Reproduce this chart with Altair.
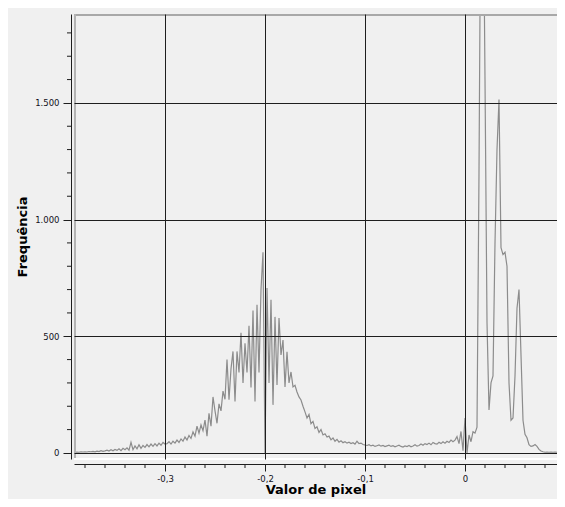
import altair as alt
import pandas as pd

# ---- data ----
bin_start = -0.39
bin_step = 0.002
counts = [
    # -0.390 .. -0.342
    3, 4, 3, 5, 4, 5, 4, 6, 5, 7, 5, 8, 6, 10, 7, 9, 12, 8, 14, 9, 15, 11, 18, 10, 20,
    # -0.340 .. -0.300
    14, 22, 12, 45, 14, 30, 18, 35, 20, 32, 24, 36, 26, 38, 28, 40, 30, 42, 33, 45, 38,
    # -0.298 .. -0.270
    40, 48, 38, 50, 42, 55, 45, 60, 50, 68, 55, 75, 62, 90, 72,
    # -0.268 .. -0.250
    115, 85, 120, 95, 141, 72, 170, 115, 240, 180,
    # -0.248 .. -0.202
    127, 210, 180, 265, 230, 400, 228, 360, 435, 220, 435, 345, 515, 300, 470, 345,
    545, 280, 610, 220, 635, 345, 700, 860,
    # -0.200 .. -0.160
    0, 707, 300, 656, 206, 583, 291, 578, 420, 484, 283, 433, 300, 347, 283, 290,
    261, 240, 227, 200, 176,
    # -0.158 .. -0.100
    150, 165, 125, 135, 105, 112, 88, 100, 77, 82, 68, 72, 56, 64, 50, 58, 46, 52,
    44, 48, 42, 46, 40, 44, 38, 50, 40, 42, 36, 34,
    # -0.098 .. -0.012
    32, 35, 30, 33, 28, 31, 34, 29, 32, 27, 30, 33, 28, 31, 26, 30, 33, 28, 25, 30,
    27, 32, 26, 30, 35, 29, 32, 38, 33, 40, 36, 42, 35, 45, 40, 38, 46, 40, 48, 42,
    50, 45, 55, 48,
    # -0.010 .. 0.012
    55, 70, 40, 92, 10, 150, 0, 77, 48, 91, 85, 110,
    # 0.014 .. 0.100
    1200, 2600, 2600, 1600, 560, 184, 300, 330, 900, 1300, 1515, 880, 850, 860, 800,
    300, 140, 150, 330, 620, 700, 420, 140, 80, 65, 35, 28, 30, 36, 28, 15, 8, 5, 3,
    4, 3, 4, 3, 4, 3, 2, 3, 2, 2,
]
x_major = [-0.3, -0.2, -0.1, 0.0]
y_major = [0, 500, 1000, 1500]
x_minor = [-0.38, -0.36, -0.34, -0.32, -0.28, -0.26, -0.24, -0.22, -0.18, -0.16,
           -0.14, -0.12, -0.08, -0.06, -0.04, -0.02, 0.02, 0.04, 0.06, 0.08]
y_minor = [100, 200, 300, 400, 600, 700, 800, 900, 1100, 1200, 1300, 1400,
           1600, 1700, 1800]

x_domain = [-0.391, 0.092]
y_domain = [-26, 1881]
x_title = "Valor de pixel"
y_title = "Frequência"

W, H = 483, 445
FONT = "DejaVu Sans"
BG = "#f0f0f0"

df = pd.DataFrame({
    "valor": [round(bin_start + i * bin_step, 4) for i in range(len(counts))],
    "freq": counts,
})

xs = alt.Scale(domain=x_domain, nice=False, zero=False)
ys = alt.Scale(domain=y_domain, nice=False, zero=False)

x_label = "datum.value == 0 ? '0' : (datum.value < 0 ? '-' : '') + replace(format(abs(datum.value), '.1f'), '.', ',')"
y_label = "replace(format(datum.value, ',d'), ',', '.')"

line = alt.Chart(df).mark_line(color="#8c8c8c", strokeWidth=1.2, clip=True).encode(
    x=alt.X("valor:Q", scale=xs, title=x_title,
            axis=alt.Axis(values=x_major, labelExpr=x_label, offset=5, tickSize=7,
                          grid=True, gridColor="#1e1e1e", gridWidth=1, gridOpacity=1,
                          domainColor="#1e1e1e", tickColor="#1e1e1e",
                          labelFont=FONT, labelFontSize=8.5, labelColor="#101020",
                          labelPadding=3, titleFont=FONT, titleFontSize=13,
                          titleFontWeight="bold", titleColor="#000000",
                          titlePadding=1, zindex=1)),
    y=alt.Y("freq:Q", scale=ys, title=y_title,
            axis=alt.Axis(values=y_major, labelExpr=y_label, offset=3, tickSize=8,
                          grid=True, gridColor="#1e1e1e", gridWidth=1, gridOpacity=1,
                          domainColor="#1e1e1e", tickColor="#1e1e1e",
                          labelFont=FONT, labelFontSize=8.5, labelColor="#101020",
                          labelPadding=4, titleFont=FONT, titleFontSize=13,
                          titleFontWeight="bold", titleColor="#000000",
                          titlePadding=5, zindex=1)),
)

ymin_df = pd.DataFrame({"v": y_minor})
xmin_df = pd.DataFrame({"v": x_minor})

y_minor_ticks = alt.Chart(ymin_df).mark_rule(color="#1e1e1e", strokeWidth=1).encode(
    y=alt.Y("v:Q", scale=ys, title=y_title),
    x=alt.value(-7), x2=alt.value(-3),
)
x_minor_ticks = alt.Chart(xmin_df).mark_rule(color="#1e1e1e", strokeWidth=1).encode(
    x=alt.X("v:Q", scale=xs, title=x_title),
    y=alt.value(H + 5), y2=alt.value(H + 9),
)

one = alt.Data(values=[{"k": 1}])
top_border = alt.Chart(one).mark_rule(color="#a8a8a8", strokeWidth=2).encode(
    x=alt.value(0), x2=alt.value(W), y=alt.value(1))
left_border = alt.Chart(one).mark_rule(color="#b4b4b4", strokeWidth=2).encode(
    x=alt.value(1), y=alt.value(0), y2=alt.value(H))
bottom_border = alt.Chart(one).mark_rule(color="#ffffff", strokeWidth=2).encode(
    x=alt.value(0), x2=alt.value(W), y=alt.value(H))

chart = alt.layer(
    line, y_minor_ticks, x_minor_ticks, top_border, left_border, bottom_border
).properties(
    width=W, height=H,
    autosize=alt.AutoSizeParams(type="none"),
    padding={"left": 66, "top": 6, "right": 0, "bottom": 40},
    background=BG,
).configure_view(stroke=None, fill=BG)

chart.save("out.html", embed_options={"renderer": "svg", "actions": False})
